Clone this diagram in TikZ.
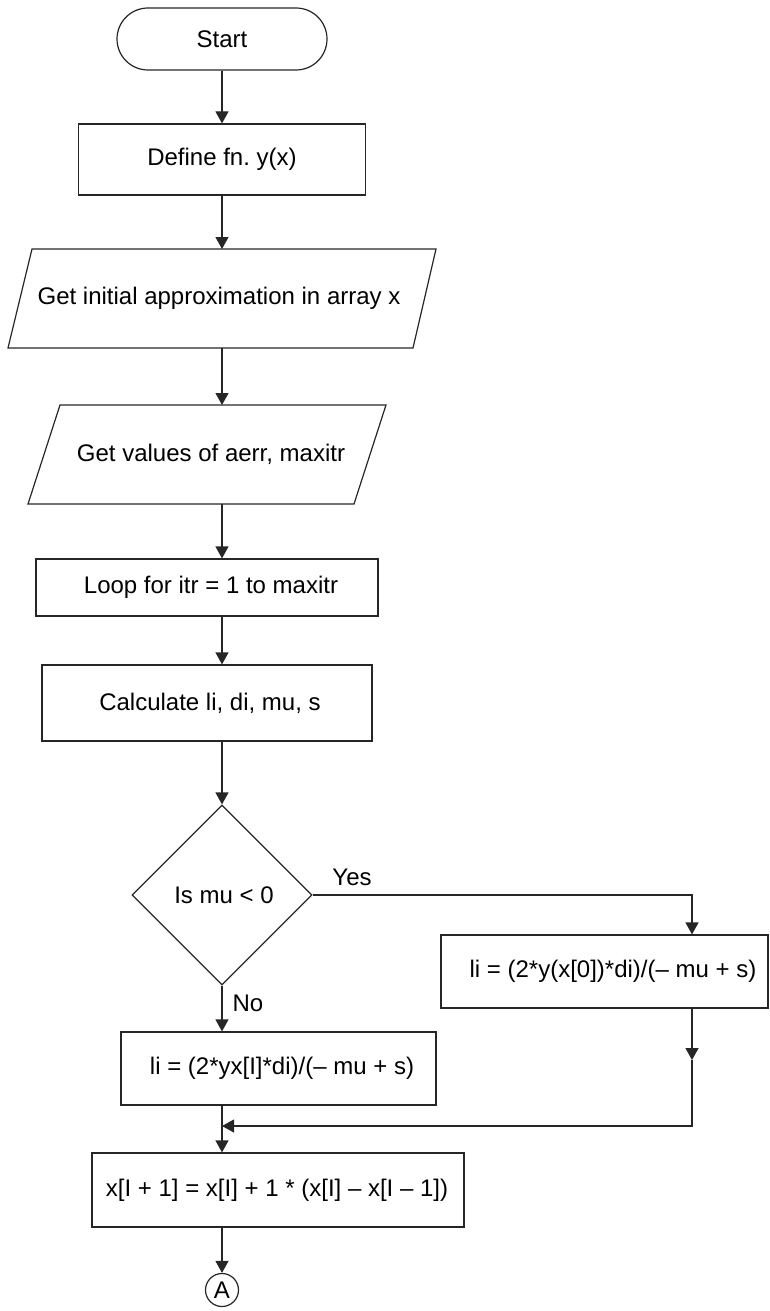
\documentclass[tikz,border=0pt]{standalone}
\usepackage{fontspec}
\setmainfont{Liberation Sans}
\usetikzlibrary{arrows.meta,shapes.geometric}
\frenchspacing
\begin{document}
\begin{tikzpicture}[x=1pt,y=-1pt,
  every node/.style={font=\fontsize{24}{28}\selectfont, inner sep=0pt},
  ln/.style={line width=1.2pt, draw=black!85},
  box/.style={ln, rectangle},
  arr/.style={ln, -{Triangle[length=12pt,width=13pt]}}]
\useasboundingbox (0,0) rectangle (769,1311);
\coordinate (axis) at (222,0);
\coordinate (rx) at (692,0);

% Start
\node[ln, rounded corners=31pt, minimum width=210pt, minimum height=62pt] (start) at (222,39) {Start};
\node[box, minimum width=287pt, minimum height=71pt] (define) at (222,159.5) {Define fn. y(x)};

% parallelogram 1
\draw[ln] (32,249) -- (436,249) -- (413,348) -- (8,348) -- cycle;
\coordinate (p1t) at (222,249);
\coordinate (p1b) at (222,348);
\node (p1) at (219,298) {Get initial approximation in array x};

% parallelogram 2
\draw[ln] (60,405) -- (386,405) -- (354,504) -- (28,504) -- cycle;
\coordinate (p2t) at (222,405);
\coordinate (p2b) at (222,504);
\node (p2) at (211,454) {Get values of aerr, maxitr};

\node[box, minimum width=342pt, minimum height=57pt] (loop) at (207,587.5) {};
\node (looptxt) at (211,587.5) {Loop for itr = 1 to maxitr};
\node[box, minimum width=330pt, minimum height=76pt] (calc) at (207,703) {};
\node (calctxt) at (210,703) {Calculate li, di, mu, s};

\node[ln, diamond, aspect=1, minimum width=180pt, minimum height=180pt] (dec) at (222,895) {};
\node (dectxt) at (224,895) {Is mu < 0};
\node (yes) at (352,877) {Yes};
\node (no) at (248,1003) {No};

\node[box, minimum width=327pt, minimum height=73pt] (rbox) at (604.5,971.5) {};
\node (rtxt) at (613,971) {li = (2*y(x[0])*di)/(– mu + s)};

\node[box, minimum width=315pt, minimum height=73pt] (nobox) at (278.5,1068.5) {};
\node (notxt) at (282,1068) {li = (2*yx[I]*di)/(– mu + s)};

\node[box, minimum width=372pt, minimum height=74pt] (last) at (278,1190) {};
\node (lasttxt) at (277,1190) {x[I + 1] = x[I] + 1 * (x[I] – x[I – 1])};

\node[ln, circle, minimum size=33pt] (A) at (222,1290) {A};

\coordinate (mid) at (692,1060);
\coordinate (join) at (222,1126);

% connectors
\draw[arr] (start.south) -- (define.north);
\draw[arr] (define.south) -- (p1t);
\draw[arr] (p1b) -- (p2t);
\draw[arr] (p2b) -- (loop.north -| axis);
\draw[arr] (loop.south -| axis) -- (calc.north -| axis);
\draw[arr] (calc.south -| axis) -- (dec.north);
\draw[arr] (dec.east) -| (rbox.north -| rx);
\draw[arr] (dec.south) -- (nobox.north -| axis);
\draw[arr] (rbox.south -| rx) -- (mid);
\draw[arr] (mid) -- (rx |- join) -- (join);
\draw[ln] (nobox.south -| axis) -- (join);
\draw[arr] (join) -- (last.north -| axis);
\draw[arr] (last.south -| axis) -- (A.north);
\end{tikzpicture}
\end{document}
